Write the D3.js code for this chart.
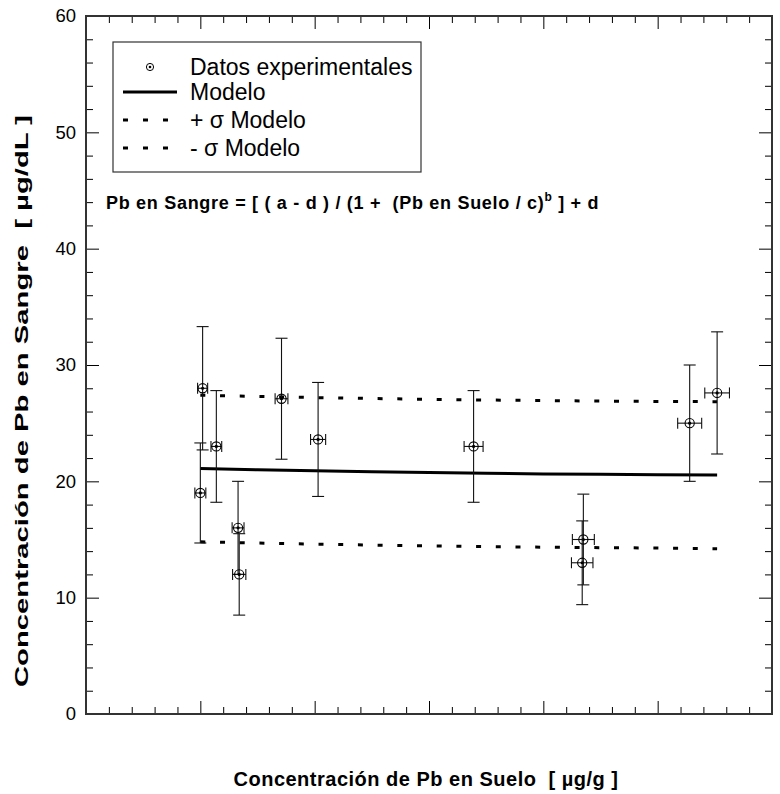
<!DOCTYPE html>
<html>
<head>
<meta charset="utf-8">
<script src="https://cdn.jsdelivr.net/npm/d3@7"></script>
<style>
  html, body { margin: 0; padding: 0; background: #fff; }
  svg { display: block; }
  text { font-family: "Liberation Sans", Arial, sans-serif; fill: #000; white-space: pre; }
</style>
</head>
<body>
<svg id="chart" width="780" height="794"></svg>
<script>
// ---------- data ----------
const soilPb   = [102, 100, 114, 133, 134, 171, 203, 339, 435, 434, 528, 552];
const bloodPb  = [28.0, 19.0, 23.0, 16.0, 12.0, 27.1, 23.6, 23.0, 15.0, 13.0, 25.0, 27.6];
const bloodErr = [5.3, 4.3, 4.8, 4.0, 3.5, 5.2, 4.9, 4.8, 3.9, 3.6, 5.0, 5.25];
const soilErr  = [4.4, 4.8, 4.7, 5.2, 5.8, 5.6, 6.6, 8.3, 9.6, 9.4, 10.5, 10.8];

const modelX     = [100, 150, 200, 250, 300, 350, 400, 450, 500, 552];
const modelY     = [21.1, 21.0, 20.9, 20.82, 20.75, 20.69, 20.64, 20.6, 20.57, 20.55];
const modelPlus  = [27.4, 27.3, 27.2, 27.12, 27.05, 26.99, 26.94, 26.9, 26.87, 26.85];
const modelMinus = [14.8, 14.7, 14.6, 14.52, 14.45, 14.39, 14.34, 14.3, 14.27, 14.2];

const yTickLabels = [0, 10, 20, 30, 40, 50, 60];
const legendLabels = ["Datos experimentales", "Modelo", "+ σ Modelo", "- σ Modelo"];

// ---------- layout ----------
const svg = d3.select("#chart");
const L = 86, R = 772, T = 16, B = 714;
const x = d3.scaleLinear().domain([0, 600]).range([L, R]);
const y = d3.scaleLinear().domain([0, 60]).range([B, T]);

const majorX = d3.range(0, 601, 100), minorX = d3.range(0, 601, 20).filter(v => v % 100 !== 0);
const majorY = yTickLabels, minorY = d3.range(0, 61, 2).filter(v => v % 10 !== 0);

function styleAxis(g) {
  g.select(".domain").remove();
  g.selectAll(".tick line").attr("stroke", "#000").attr("stroke-width", 1);
}
// left
svg.append("g").attr("transform", `translate(${L},0)`)
  .call(d3.axisLeft(y).tickValues(majorY).tickSize(-13).tickPadding(10).tickFormat(d3.format("d")))
  .call(styleAxis)
  .call(g => g.selectAll("text").attr("font-size", 18.5).attr("fill", "#000")
      .attr("font-family", "Liberation Sans, Arial, sans-serif"));
svg.append("g").attr("transform", `translate(${L},0)`)
  .call(d3.axisLeft(y).tickValues(minorY).tickSize(-7).tickFormat("")).call(styleAxis);
// right
svg.append("g").attr("transform", `translate(${R},0)`)
  .call(d3.axisRight(y).tickValues(majorY).tickSize(-13).tickFormat("")).call(styleAxis);
svg.append("g").attr("transform", `translate(${R},0)`)
  .call(d3.axisRight(y).tickValues(minorY).tickSize(-7).tickFormat("")).call(styleAxis);
// bottom
svg.append("g").attr("transform", `translate(0,${B})`)
  .call(d3.axisBottom(x).tickValues(majorX).tickSize(-13).tickFormat("")).call(styleAxis);
svg.append("g").attr("transform", `translate(0,${B})`)
  .call(d3.axisBottom(x).tickValues(minorX).tickSize(-7).tickFormat("")).call(styleAxis);
// top
svg.append("g").attr("transform", `translate(0,${T})`)
  .call(d3.axisTop(x).tickValues(majorX).tickSize(-13).tickFormat("")).call(styleAxis);
svg.append("g").attr("transform", `translate(0,${T})`)
  .call(d3.axisTop(x).tickValues(minorX).tickSize(-7).tickFormat("")).call(styleAxis);

// frame
svg.append("rect").attr("x", L).attr("y", T).attr("width", R - L).attr("height", B - T)
  .attr("fill", "none").attr("stroke", "#333").attr("stroke-width", 2);

// ---------- model lines ----------
const idx = d3.range(modelX.length);
const line = arr => d3.line().x(i => x(modelX[i])).y(i => y(arr[i]))(idx);
svg.append("path").attr("d", line(modelY)).attr("fill", "none")
  .attr("stroke", "#000").attr("stroke-width", 3);
[modelPlus, modelMinus].forEach(arr => {
  svg.append("path").attr("d", line(arr)).attr("fill", "none")
    .attr("stroke", "#000").attr("stroke-width", 3).attr("stroke-dasharray", "5 14.7");
});

// ---------- error bars + points ----------
const pts = svg.append("g");
soilPb.forEach((sx, i) => {
  const g = pts.append("g");
  const cx = x(sx), cy = y(bloodPb[i]);
  const y0 = y(bloodPb[i] - bloodErr[i]), y1 = y(bloodPb[i] + bloodErr[i]);
  const x0 = x(sx - soilErr[i]), x1 = x(sx + soilErr[i]);
  const st = s => s.attr("stroke", "#111").attr("stroke-width", 1.1);
  g.append("line").attr("x1", cx).attr("x2", cx).attr("y1", y0).attr("y2", y1).call(st);
  g.append("line").attr("x1", cx - 6).attr("x2", cx + 6).attr("y1", y0).attr("y2", y0).call(st);
  g.append("line").attr("x1", cx - 6).attr("x2", cx + 6).attr("y1", y1).attr("y2", y1).call(st);
  g.append("line").attr("x1", x0).attr("x2", x1).attr("y1", cy).attr("y2", cy).call(st);
  g.append("line").attr("x1", x0).attr("x2", x0).attr("y1", cy - 5.5).attr("y2", cy + 5.5).call(st);
  g.append("line").attr("x1", x1).attr("x2", x1).attr("y1", cy - 5.5).attr("y2", cy + 5.5).call(st);
  g.append("circle").attr("cx", cx).attr("cy", cy).attr("r", 4.6)
    .attr("fill", "none").attr("stroke", "#000").attr("stroke-width", 1.1);
  g.append("circle").attr("cx", cx).attr("cy", cy).attr("r", 1.6).attr("fill", "#000");
});

// ---------- legend ----------
const lg = svg.append("g");
lg.append("rect").attr("x", 113).attr("y", 42).attr("width", 308).attr("height", 130)
  .attr("fill", "#fff").attr("stroke", "#333").attr("stroke-width", 1.2);
const rowsY = [67, 92, 120, 148];
legendLabels.forEach((t, i) => {
  lg.append("text").attr("x", 190).attr("y", rowsY[i]).attr("dy", "0.36em")
    .attr("font-size", 23).text(t);
});
lg.append("circle").attr("cx", 150).attr("cy", rowsY[0]).attr("r", 3.6)
  .attr("fill", "none").attr("stroke", "#000").attr("stroke-width", 1);
lg.append("circle").attr("cx", 150).attr("cy", rowsY[0]).attr("r", 1.3).attr("fill", "#000");
lg.append("line").attr("x1", 123).attr("x2", 177).attr("y1", rowsY[1]).attr("y2", rowsY[1])
  .attr("stroke", "#000").attr("stroke-width", 3);
[2, 3].forEach(i => lg.append("line").attr("x1", 123).attr("x2", 170).attr("y1", rowsY[i]).attr("y2", rowsY[i])
  .attr("stroke", "#000").attr("stroke-width", 3).attr("stroke-dasharray", "5 15"));

// ---------- formula ----------
const f = svg.append("text").attr("x", 106).attr("y", 209).attr("font-size", 18)
  .attr("font-weight", "bold").attr("letter-spacing", 0.7);
f.append("tspan").text("Pb en Sangre = [ ( a - d ) / (1 +  (Pb en Suelo / c)");
f.append("tspan").attr("dy", -8).attr("font-size", 12).text("b");
f.append("tspan").attr("dy", 8).text(" ] + d");

// ---------- axis titles ----------
svg.append("text").attr("x", 426).attr("y", 786).attr("text-anchor", "middle")
  .attr("font-size", 20).attr("font-weight", "bold").attr("letter-spacing", 0.5)
  .text("Concentración de Pb en Suelo  [ µg/g ]");
svg.append("text").attr("transform", "translate(28,401) rotate(-90)").attr("text-anchor", "middle")
  .attr("font-size", 18).attr("font-weight", "bold")
  .attr("textLength", 572).attr("lengthAdjust", "spacingAndGlyphs")
  .text("Concentración de Pb en Sangre  [ µg/dL ]");
</script>
</body>
</html>
